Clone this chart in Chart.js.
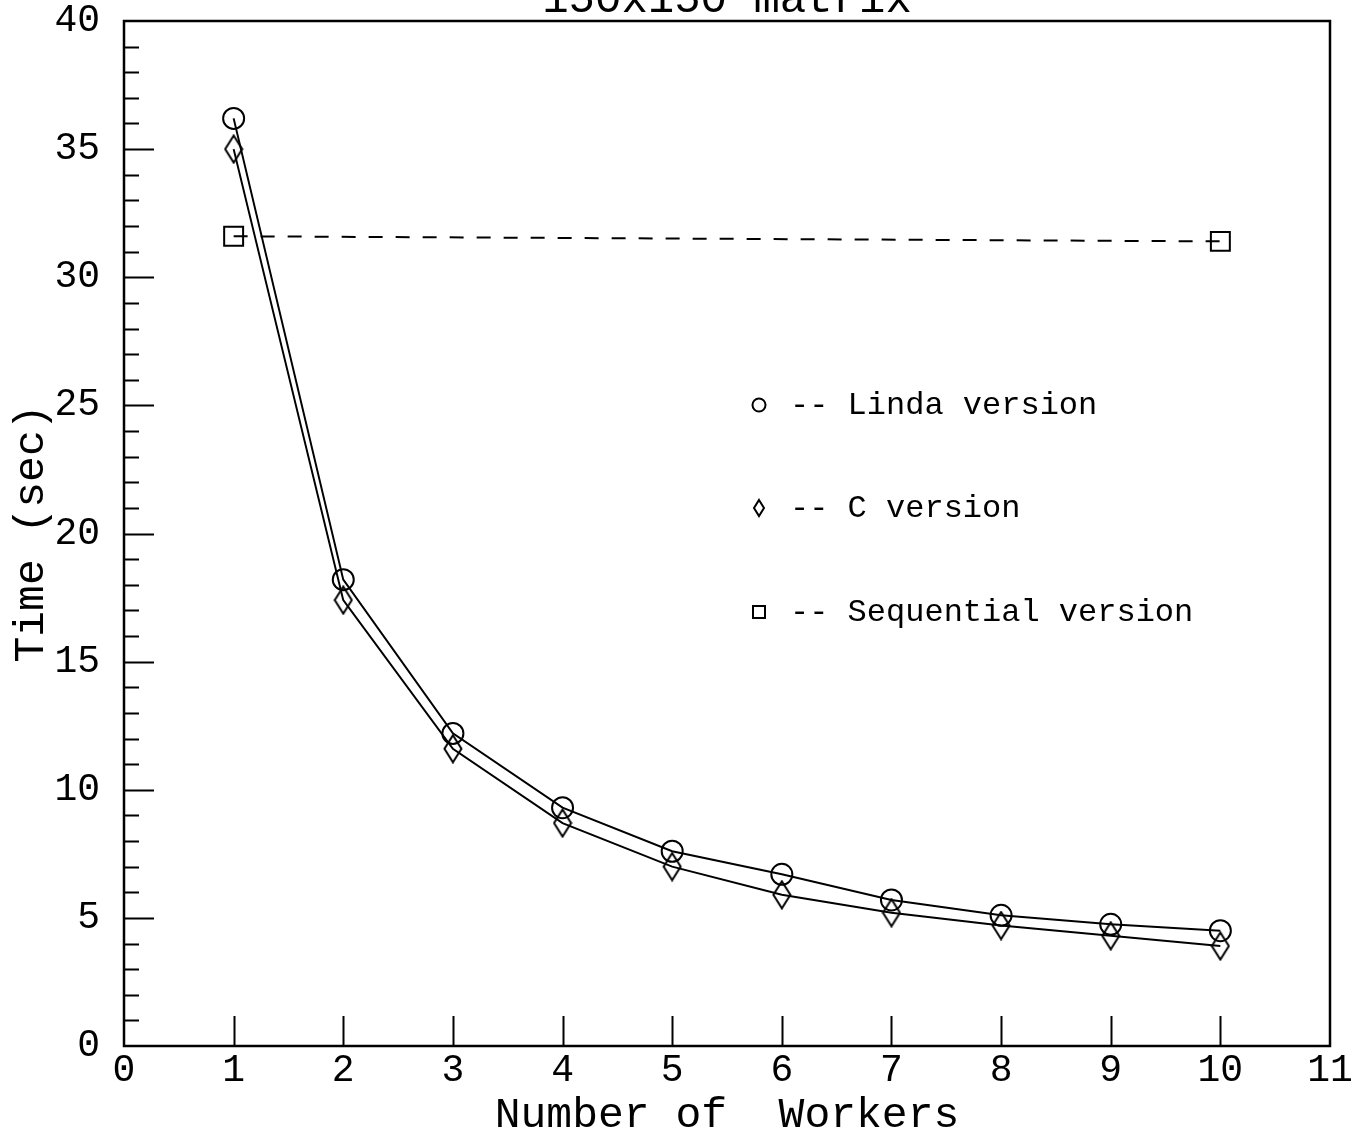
<!DOCTYPE html>
<html>
<head>
<meta charset="utf-8">
<script src="https://cdn.jsdelivr.net/npm/chart.js@4/dist/chart.umd.min.js"></script>
<style>
  html, body { margin: 0; padding: 0; background: #fff; }
  #wrap { width: 1365px; height: 1139px; }
</style>
</head>
<body>
<div id="wrap"><canvas id="c" width="1365" height="1139"></canvas></div>
<script>
// Run times for the 150x150 matrix multiply
const workers = [1, 2, 3, 4, 5, 6, 7, 8, 9, 10];
const lindaTimes = [36.2, 18.2, 12.2, 9.3, 7.6, 6.7, 5.7, 5.1, 4.75, 4.5];
const cTimes = [35.0, 17.4, 11.6, 8.7, 7.0, 5.9, 5.2, 4.7, 4.3, 3.9];
const seqWorkers = [1, 10];
const seqTimes = [31.6, 31.4];

const chartTitle = '150x150 matrix';
const xTitle = 'Number of  Workers';
const yTitle = 'Time (sec)';
const legendLabels = ['-- Linda version', '-- C version', '-- Sequential version'];

const MONO = '"Liberation Mono", "DejaVu Sans Mono", monospace';

// tall, narrow diamond marker
function makeDiamond(w, h, lw) {
  const cv = document.createElement('canvas');
  cv.width = w; cv.height = h;
  const g = cv.getContext('2d');
  g.strokeStyle = '#000';
  g.lineWidth = lw;
  g.beginPath();
  g.moveTo(w / 2, lw * 0.75);
  g.lineTo(w - lw * 0.75, h / 2);
  g.lineTo(w / 2, h - lw * 0.75);
  g.lineTo(lw * 0.75, h / 2);
  g.closePath();
  g.stroke();
  return cv;
}
const diamond = makeDiamond(20, 30, 2);

const toPoints = (xs, ys) => xs.map((x, i) => ({ x: x, y: ys[i] }));

// frame, inward ticks, clipped title and the in-plot key
const decorations = {
  id: 'decorations',
  beforeDatasetsDraw(chart) {
    const { ctx, chartArea: a, scales } = chart;
    ctx.save();
    ctx.strokeStyle = '#000';
    ctx.lineWidth = 2.5;
    ctx.strokeRect(a.left, a.top, a.right - a.left, a.bottom - a.top);
    ctx.lineWidth = 2;
    ctx.beginPath();
    for (let v = 1; v < 40; v++) {
      const y = Math.round(scales.y.getPixelForValue(v)) + 0.5;
      const len = v % 5 === 0 ? 30 : 15;
      ctx.moveTo(a.left, y);
      ctx.lineTo(a.left + len, y);
    }
    for (let v = 1; v <= 10; v++) {
      const x = Math.round(scales.x.getPixelForValue(v)) + 0.5;
      ctx.moveTo(x, a.bottom);
      ctx.lineTo(x, a.bottom - 30);
    }
    ctx.stroke();
    ctx.restore();
  },
  afterDraw(chart) {
    const { ctx, chartArea: a } = chart;
    ctx.save();
    ctx.fillStyle = '#000';
    ctx.strokeStyle = '#000';
    ctx.font = '44px ' + MONO;
    ctx.textAlign = 'center';
    ctx.textBaseline = 'alphabetic';
    ctx.fillText(chartTitle, (a.left + a.right) / 2, 12);

    const mx = a.left + 635;
    const tx = a.left + 666;
    const rows = [a.top + 384, a.top + 487, a.top + 591];
    ctx.lineWidth = 2;
    // circle
    ctx.beginPath();
    ctx.arc(mx, rows[0], 6.5, 0, Math.PI * 2);
    ctx.stroke();
    // diamond
    ctx.beginPath();
    ctx.moveTo(mx, rows[1] - 8);
    ctx.lineTo(mx + 5, rows[1]);
    ctx.lineTo(mx, rows[1] + 8);
    ctx.lineTo(mx - 5, rows[1]);
    ctx.closePath();
    ctx.stroke();
    // square
    ctx.strokeRect(mx - 6, rows[2] - 6, 12, 12);

    ctx.font = '32px ' + MONO;
    ctx.textAlign = 'left';
    ctx.textBaseline = 'middle';
    legendLabels.forEach((t, i) => ctx.fillText(t, tx, rows[i] + 1));
    ctx.restore();
  }
};

new Chart(document.getElementById('c'), {
  type: 'line',
  data: {
    datasets: [
      {
        label: 'Linda version',
        data: toPoints(workers, lindaTimes),
        borderColor: '#000',
        borderWidth: 2,
        pointStyle: 'circle',
        pointRadius: 10.5,
        pointBorderWidth: 2,
        pointBorderColor: '#000',
        pointBackgroundColor: 'rgba(0,0,0,0)',
        tension: 0
      },
      {
        label: 'C version',
        data: toPoints(workers, cTimes),
        borderColor: '#000',
        borderWidth: 2,
        pointStyle: diamond,
        pointRadius: 10,
        tension: 0
      },
      {
        label: 'Sequential version',
        data: toPoints(seqWorkers, seqTimes),
        borderColor: '#000',
        borderWidth: 2,
        borderDash: [14, 13],
        pointStyle: 'rect',
        pointRadius: 13.4,
        pointBorderWidth: 2,
        pointBorderColor: '#000',
        pointBackgroundColor: 'rgba(0,0,0,0)',
        tension: 0
      }
    ]
  },
  options: {
    responsive: false,
    animation: false,
    devicePixelRatio: 1,
    layout: { padding: { top: 21, right: 35, bottom: 0, left: 0 } },
    plugins: {
      legend: { display: false },
      tooltip: { enabled: false },
      title: { display: false }
    },
    scales: {
      x: {
        type: 'linear',
        min: 0,
        max: 11,
        grid: { display: false, drawTicks: false },
        border: { display: false },
        ticks: { stepSize: 1, padding: 4, color: '#000', font: { family: MONO, size: 38, lineHeight: 1.1 }, maxRotation: 0 },
        title: { display: true, text: xTitle, color: '#000', font: { family: MONO, size: 43 }, padding: { top: 0, bottom: -2 } },
        afterFit(s) { s.height = 93; }
      },
      y: {
        min: 0,
        max: 40,
        grid: { display: false, drawTicks: false },
        border: { display: false },
        ticks: { stepSize: 5, padding: 24, color: '#000', font: { family: MONO, size: 38 } },
        title: { display: true, text: yTitle, color: '#000', font: { family: MONO, size: 43 }, padding: { top: 6, bottom: 0 } },
        afterFit(s) { s.width = 124; s.paddingTop = 0; s.paddingBottom = 0; }
      }
    }
  },
  plugins: [decorations]
});
</script>
</body>
</html>
